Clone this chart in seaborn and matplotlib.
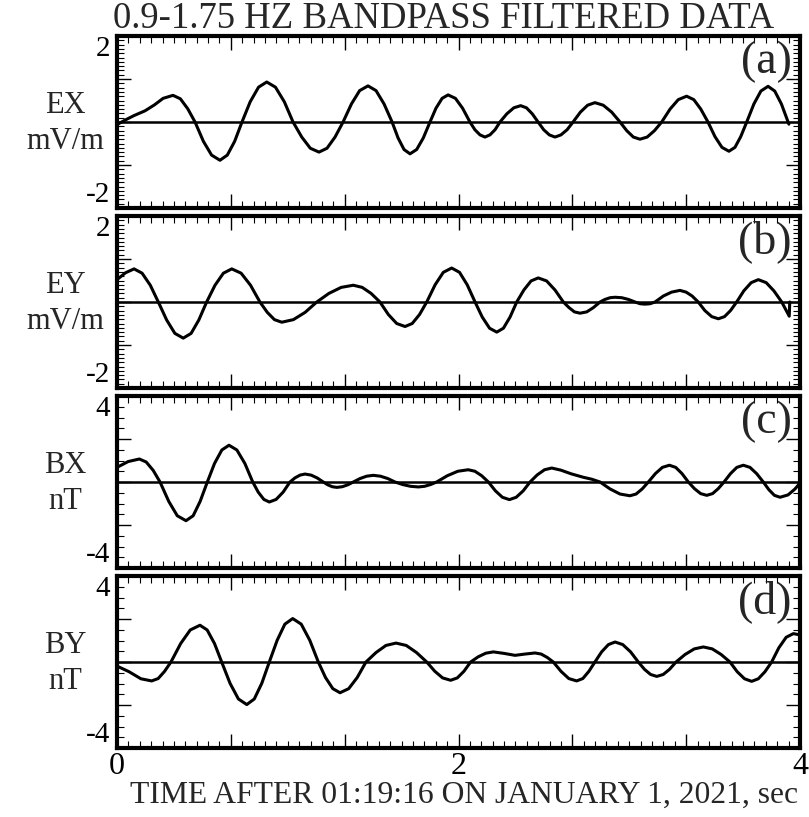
import numpy as np
import matplotlib
matplotlib.use("Agg")
import matplotlib.pyplot as plt
import seaborn as sns
from matplotlib.ticker import MultipleLocator

# ---- filtered field components, time in seconds ----
t_ex = [0.000, 0.050, 0.100, 0.164, 0.220, 0.270, 0.328, 0.371, 0.414, 0.457,
        0.506, 0.554, 0.603, 0.646, 0.689, 0.732,
        0.780, 0.829, 0.877, 0.928, 0.980, 1.031,
        1.082, 1.132, 1.183, 1.230, 1.277, 1.324,
        1.373, 1.421, 1.470, 1.517, 1.564, 1.611,
        1.646, 1.681, 1.716, 1.755, 1.794, 1.833,
        1.868, 1.904, 1.939, 1.982, 2.024, 2.067,
        2.096, 2.126, 2.155, 2.184, 2.214, 2.243,
        2.283, 2.324, 2.364, 2.398, 2.432, 2.466,
        2.499, 2.532, 2.565, 2.600, 2.636, 2.671,
        2.714, 2.756, 2.799, 2.848, 2.897, 2.946,
        2.985, 3.024, 3.063, 3.105, 3.148, 3.190,
        3.239, 3.287, 3.336, 3.378, 3.419, 3.461,
        3.502, 3.543, 3.584, 3.619, 3.653, 3.688,
        3.730, 3.771, 3.813, 3.852, 3.891, 3.935]
ex = [-0.06, 0.05, 0.15, 0.26, 0.40, 0.55, 0.62, 0.54, 0.31, 0.00,
      -0.45, -0.77, -0.89, -0.77, -0.45, 0.00,
      0.47, 0.81, 0.93, 0.81, 0.47, 0.00,
      -0.35, -0.61, -0.70, -0.61, -0.35, 0.00,
      0.42, 0.73, 0.84, 0.73, 0.42, 0.00,
      -0.37, -0.64, -0.74, -0.64, -0.37, 0.00,
      0.32, 0.55, 0.63, 0.55, 0.32, 0.00,
      -0.18, -0.30, -0.35, -0.30, -0.18, 0.00,
      0.19, 0.33, 0.38, 0.33, 0.19, 0.00,
      -0.18, -0.30, -0.35, -0.30, -0.18, 0.00,
      0.23, 0.39, 0.45, 0.39, 0.23, 0.00,
      -0.20, -0.35, -0.40, -0.35, -0.20, 0.00,
      0.30, 0.52, 0.60, 0.52, 0.30, 0.00,
      -0.34, -0.59, -0.68, -0.59, -0.34, 0.00,
      0.42, 0.72, 0.83, 0.72, 0.42, -0.05]

t_ey = [0.000, 0.050, 0.100, 0.147, 0.195, 0.242,
        0.291, 0.339, 0.388, 0.434, 0.479, 0.525,
        0.574, 0.623, 0.672, 0.727, 0.782, 0.837,
        0.880, 0.922, 0.965, 1.033, 1.102, 1.170,
        1.241, 1.313, 1.384, 1.436, 1.488, 1.540,
        1.589, 1.638, 1.687, 1.729, 1.772, 1.814,
        1.863, 1.911, 1.960, 2.006, 2.051, 2.097,
        2.139, 2.182, 2.224, 2.263, 2.302, 2.341,
        2.383, 2.425, 2.467, 2.516, 2.565, 2.614,
        2.647, 2.679, 2.712, 2.751, 2.790, 2.829,
        2.858, 2.888, 2.917, 2.956, 2.995, 3.034,
        3.063, 3.092, 3.122, 3.151,
        3.200, 3.248, 3.297, 3.333, 3.368, 3.404,
        3.443, 3.483, 3.522, 3.558, 3.593, 3.629,
        3.671, 3.714, 3.756, 3.802, 3.847, 3.893,
        3.937, 3.940]
ey = [0.52, 0.68, 0.77, 0.67, 0.39, 0.00,
      -0.42, -0.73, -0.84, -0.73, -0.42, 0.00,
      0.39, 0.67, 0.77, 0.67, 0.39, 0.00,
      -0.24, -0.41, -0.47, -0.41, -0.24, 0.00,
      0.20, 0.34, 0.39, 0.34, 0.20, 0.00,
      -0.29, -0.50, -0.57, -0.50, -0.29, 0.00,
      0.40, 0.69, 0.79, 0.69, 0.40, 0.00,
      -0.35, -0.61, -0.70, -0.61, -0.35, 0.00,
      0.28, 0.49, 0.56, 0.49, 0.28, 0.00,
      -0.13, -0.23, -0.26, -0.23, -0.13, 0.00,
      0.06, 0.10, 0.11, 0.10, 0.06, 0.00,
      -0.04, -0.05, -0.04, 0.00,
      0.14, 0.23, 0.27, 0.23, 0.14, 0.00,
      -0.20, -0.34, -0.39, -0.34, -0.20, 0.00,
      0.26, 0.45, 0.52, 0.45, 0.26, 0.00,
      -0.33, 0.00]

t_bx = [0.000, 0.065, 0.131, 0.171, 0.212, 0.252,
        0.303, 0.353, 0.404, 0.446, 0.487, 0.529,
        0.571, 0.614, 0.656, 0.702, 0.749, 0.795,
        0.827, 0.860, 0.892, 0.932, 0.973, 1.013,
        1.042, 1.072, 1.101, 1.137, 1.172, 1.208,
        1.234, 1.261, 1.287, 1.319, 1.352, 1.384,
        1.423, 1.462, 1.501, 1.543, 1.586, 1.628,
        1.674, 1.719, 1.765, 1.801, 1.836, 1.872,
        1.934, 1.996, 2.057, 2.096, 2.136, 2.175,
        2.216, 2.257, 2.298, 2.338, 2.379, 2.419,
        2.461, 2.504, 2.546, 2.600, 2.660, 2.731, 2.780, 2.829,
        2.887, 2.946, 3.004, 3.040, 3.076, 3.112,
        3.153, 3.194, 3.235, 3.272, 3.309, 3.346,
        3.382, 3.418, 3.454, 3.488, 3.521, 3.555,
        3.593, 3.630, 3.668, 3.707, 3.746, 3.785,
        3.818, 3.850, 3.883, 3.930, 3.970, 4.000]
bx = [0.68, 0.95, 1.07, 0.93, 0.54, 0.00,
      -0.90, -1.57, -1.80, -1.57, -0.90, 0.00,
      0.86, 1.49, 1.71, 1.49, 0.86, 0.00,
      -0.47, -0.81, -0.93, -0.81, -0.47, 0.00,
      0.19, 0.32, 0.37, 0.32, 0.19, 0.00,
      -0.13, -0.22, -0.25, -0.22, -0.13, 0.00,
      0.16, 0.27, 0.31, 0.27, 0.16, 0.00,
      -0.12, -0.20, -0.23, -0.20, -0.12, 0.00,
      0.29, 0.50, 0.57, 0.50, 0.29, 0.00,
      -0.41, -0.71, -0.82, -0.71, -0.41, 0.00,
      0.33, 0.57, 0.65, 0.55, 0.38, 0.22, 0.13, 0.00,
      -0.32, -0.56, -0.64, -0.56, -0.32, 0.00,
      0.39, 0.68, 0.78, 0.68, 0.39, 0.00,
      -0.31, -0.54, -0.62, -0.54, -0.31, 0.00,
      0.39, 0.68, 0.78, 0.68, 0.39, 0.00,
      -0.36, -0.62, -0.71, -0.60, -0.33, -0.05]

t_by = [0.000, 0.070, 0.140, 0.203, 0.241, 0.278, 0.316,
        0.373, 0.429, 0.486, 0.528, 0.571, 0.613,
        0.662, 0.711, 0.760, 0.804, 0.848, 0.892,
        0.938, 0.983, 1.029, 1.079, 1.129, 1.179,
        1.221, 1.264, 1.306, 1.357, 1.407, 1.458,
        1.517, 1.575, 1.634, 1.694, 1.754, 1.814,
        1.861, 1.907, 1.954, 1.993, 2.032, 2.071,
        2.115, 2.160, 2.204, 2.267, 2.331, 2.390, 2.448, 2.484, 2.520, 2.555,
        2.601, 2.646, 2.692, 2.728, 2.763, 2.799,
        2.838, 2.878, 2.917, 2.962, 3.008, 3.053,
        3.089, 3.125, 3.161, 3.199, 3.236, 3.274,
        3.327, 3.381, 3.434, 3.486, 3.538, 3.590,
        3.632, 3.675, 3.717, 3.756, 3.795, 3.834,
        3.876, 3.919, 3.961, 4.000]
by = [-0.19, -0.45, -0.78, -0.88, -0.77, -0.44, 0.00,
      0.86, 1.49, 1.71, 1.49, 0.86, 0.00,
      -0.99, -1.72, -1.98, -1.72, -0.99, 0.00,
      1.01, 1.76, 2.02, 1.76, 1.01, 0.00,
      -0.72, -1.24, -1.43, -1.24, -0.72, 0.00,
      0.44, 0.77, 0.88, 0.77, 0.44, 0.00,
      -0.43, -0.74, -0.85, -0.74, -0.43, 0.00,
      0.24, 0.41, 0.47, 0.40, 0.31, 0.37, 0.42, 0.37, 0.21, 0.00,
      -0.44, -0.77, -0.88, -0.77, -0.44, 0.00,
      0.47, 0.81, 0.93, 0.81, 0.47, 0.00,
      -0.34, -0.58, -0.67, -0.58, -0.34, 0.00,
      0.35, 0.61, 0.70, 0.61, 0.35, 0.00,
      -0.45, -0.78, -0.90, -0.78, -0.45, 0.00,
      0.66, 1.15, 1.32, 1.26]

names = ["EX", "EY", "BX", "BY"]
units = ["mV/m", "mV/m", "nT", "nT"]
tags = ["(a)", "(b)", "(c)", "(d)"]
limits = [2, 2, 4, 4]
x_tick_labels = ["0", "", "", "2", "", "", "4"]

title = "0.9-1.75 HZ BANDPASS FILTERED DATA"
xlabel = "TIME AFTER 01:19:16 ON JANUARY 1, 2021, sec"

# ---- drawing ----
sns.set_theme(style="ticks")
plt.rcParams["font.family"] = ["Liberation Serif", "DejaVu Serif"]

W, H = 809, 817
fig = plt.figure(figsize=(W / 100, H / 100), dpi=100)
fig.patch.set_facecolor("white")

series = [(t_ex, ex), (t_ey, ey), (t_bx, bx), (t_by, by)]
ax_left, ax_right = 117, 800
panel_tops = [36, 216, 396, 576]
panel_h = 172

for i, (t, v) in enumerate(series):
    top = panel_tops[i]
    ax = fig.add_axes([ax_left / W, 1 - (top + panel_h) / H,
                       (ax_right - ax_left) / W, panel_h / H])
    ax.set_facecolor("white")
    lim = limits[i]

    ax.axhline(0, color="black", lw=1.8, zorder=1)
    sns.lineplot(x=t, y=v, ax=ax, color="black", lw=2.2,
                 estimator=None, sort=False, legend=False, zorder=2,
                 solid_joinstyle="round", solid_capstyle="round")

    ax.set_xlim(0, 4)
    ax.set_ylim(-lim, lim)

    # y ticks: majors every 1 (E) or 2 (B), labels only at the limits
    major = 1 if lim == 2 else 2
    minor = 0.1 if lim == 2 else 0.5
    yt = np.arange(-lim, lim + major / 2, major)
    ylabels = [("%d" % y if abs(y) == lim else "") for y in yt]
    ax.set_yticks(yt)
    ax.set_yticklabels(ylabels, fontsize=21)
    ax.yaxis.set_minor_locator(MultipleLocator(minor))
    tl = ax.get_yticklabels()
    tl[0].set_verticalalignment("bottom")
    tl[-1].set_verticalalignment("top")

    # x ticks: majors every 2/3 s, minors every 1/15 s
    ax.set_xticks(np.arange(7) * 2 / 3)
    if i == 3:
        ax.set_xticklabels(x_tick_labels, fontsize=23)
    else:
        ax.set_xticklabels([""] * 7)
    ax.xaxis.set_minor_locator(MultipleLocator(1 / 15))

    ax.tick_params(which="both", direction="in", top=True, right=True,
                   color="black", width=1.0, labelcolor="black")
    ax.tick_params(which="major", length=10, pad=3)
    ax.tick_params(which="minor", length=5, width=0.8)
    ax.tick_params(axis="y", pad=5)
    ax.set_xlabel("")
    ax.set_ylabel("")
    for sp in ax.spines.values():
        sp.set_linewidth(3.0)
        sp.set_color("black")

    ax.text(-0.076, 0.49, names[i] + "\n" + units[i], transform=ax.transAxes,
            ha="center", va="center", fontsize=22, linespacing=1.3,
            multialignment="center")
    ax.text(0.988, 0.975, tags[i], transform=ax.transAxes,
            ha="right", va="top", fontsize=33)

fig.text(444 / W, 1 - 19 / H, title, ha="center", va="center", fontsize=26.5)
fig.text(464 / W, 1 - 795 / H, xlabel, ha="center", va="center", fontsize=22.8)

fig.savefig("out.png", dpi=100, facecolor="white")
